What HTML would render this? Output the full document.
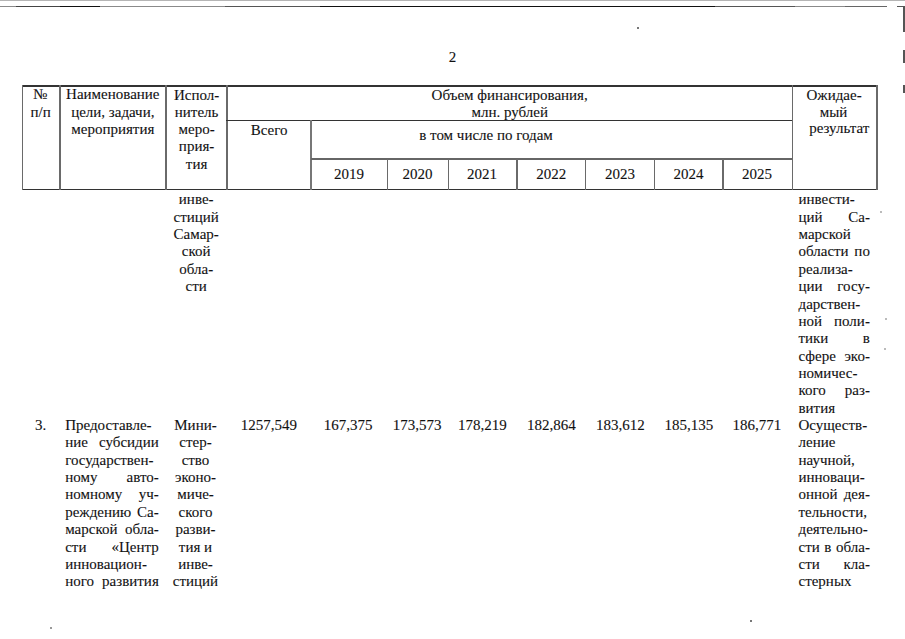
<!DOCTYPE html>
<html><head><meta charset="utf-8"><style>
html,body{margin:0;padding:0;background:#fff;width:905px;height:639px;overflow:hidden;position:relative}
.t{position:absolute;font-family:"Liberation Serif",serif;font-size:15px;line-height:17.28px;height:17.28px;color:#111;white-space:nowrap;-webkit-text-stroke:0.1px #111}
.c{text-align:center}
.j{text-align:justify;text-align-last:justify}
.l{position:absolute}
</style></head><body>
<div class="l" style="left:0px;top:0px;width:905px;height:1.2px;background:#b5b5b5"></div>
<div class="l" style="left:0px;top:5.6px;width:887px;height:1.3px;background:#8a8a8a"></div>
<div class="l" style="left:16px;top:5.5px;width:44px;height:1.6px;background:#444"></div>
<div class="l" style="left:60px;top:5.5px;width:40px;height:1.6px;background:#111"></div>
<div class="l" style="left:225px;top:5.5px;width:95px;height:1.6px;background:#555"></div>
<div class="l" style="left:320px;top:5.5px;width:395px;height:1.6px;background:#111"></div>
<div class="l" style="left:715px;top:5.5px;width:80px;height:1.6px;background:#555"></div>
<div class="l" style="left:845px;top:5.5px;width:42px;height:1.6px;background:#666"></div>
<div class="l" style="left:897px;top:5.5px;width:8px;height:1.6px;background:#555"></div>
<div class="l" style="left:903.4px;top:6px;width:1.6px;height:26px;background:#555"></div>
<div class="l" style="left:903.4px;top:50px;width:1.6px;height:13px;background:#555"></div>
<div class="l" style="left:903.4px;top:85px;width:1.6px;height:8px;background:#555"></div>
<div class="l" style="left:637px;top:27px;width:1.5px;height:1.5px;background:#777"></div>
<div class="l" style="left:50px;top:627px;width:1.5px;height:1.5px;background:#999"></div>
<div class="l" style="left:750px;top:620px;width:1.5px;height:1.5px;background:#777"></div>
<div class="l" style="left:880px;top:211px;width:1.5px;height:1.5px;background:#bbb"></div>
<div class="l" style="left:885px;top:318px;width:1.5px;height:1.5px;background:#bbb"></div>
<div class="l" style="left:884px;top:348px;width:1.5px;height:1.5px;background:#bbb"></div>
<div class="t" style="left:448.70px;top:48.60px">2</div>
<div class="l" style="left:21.5px;top:85px;width:856.0px;height:1.5px;background:#333"></div>
<div class="l" style="left:21.5px;top:188.5px;width:856.0px;height:1.6px;background:#333"></div>
<div class="l" style="left:21.5px;top:85px;width:1.6px;height:105.0px;background:#6a6a6a"></div>
<div class="l" style="left:59.2px;top:85px;width:1.6px;height:105.0px;background:#6a6a6a"></div>
<div class="l" style="left:165.2px;top:85px;width:1.6px;height:105.0px;background:#6a6a6a"></div>
<div class="l" style="left:226.0px;top:85px;width:1.6px;height:105.0px;background:#6a6a6a"></div>
<div class="l" style="left:791.5px;top:85px;width:1.6px;height:105.0px;background:#6a6a6a"></div>
<div class="l" style="left:876.0px;top:85px;width:1.6px;height:105.0px;background:#6a6a6a"></div>
<div class="l" style="left:226.3px;top:119.8px;width:565.7px;height:1.5px;background:#333"></div>
<div class="l" style="left:310.2px;top:120px;width:1.6px;height:69.5px;background:#777"></div>
<div class="l" style="left:311px;top:158.2px;width:481px;height:1.7px;background:#666"></div>
<div class="l" style="left:386.5px;top:158.5px;width:1.6px;height:31.0px;background:#6a6a6a"></div>
<div class="l" style="left:447.7px;top:158.5px;width:1.6px;height:31.0px;background:#6a6a6a"></div>
<div class="l" style="left:516.2px;top:158.5px;width:1.6px;height:31.0px;background:#6a6a6a"></div>
<div class="l" style="left:584.7px;top:158.5px;width:1.6px;height:31.0px;background:#6a6a6a"></div>
<div class="l" style="left:653.8px;top:158.5px;width:1.6px;height:31.0px;background:#6a6a6a"></div>
<div class="l" style="left:722.4px;top:158.5px;width:1.6px;height:31.0px;background:#6a6a6a"></div>
<div class="t c" style="left:-59.80px;top:86.40px;width:200px">№</div>
<div class="t c" style="left:-59.40px;top:104.00px;width:200px">п/п</div>
<div class="t c" style="left:12.80px;top:86.40px;width:200px">Наименование</div>
<div class="t c" style="left:12.80px;top:103.65px;width:200px">цели, задачи,</div>
<div class="t c" style="left:12.80px;top:120.90px;width:200px">мероприятия</div>
<div class="t c" style="left:96.60px;top:86.90px;width:200px">Испол-</div>
<div class="t c" style="left:96.60px;top:104.05px;width:200px">нитель</div>
<div class="t c" style="left:96.60px;top:121.20px;width:200px">меро-</div>
<div class="t c" style="left:96.60px;top:138.35px;width:200px">прия-</div>
<div class="t c" style="left:96.60px;top:155.50px;width:200px">тия</div>
<div class="t c" style="left:409.70px;top:86.90px;width:200px">Объем финансирования,</div>
<div class="t c" style="left:409.75px;top:103.80px;width:200px">млн. рублей</div>
<div class="t c" style="left:169.10px;top:121.70px;width:200px">Всего</div>
<div class="t" style="left:419.20px;top:126.90px">в том числе по годам</div>
<div class="t c" style="left:249.10px;top:166.40px;width:200px">2019</div>
<div class="t c" style="left:317.60px;top:166.40px;width:200px">2020</div>
<div class="t c" style="left:382.00px;top:166.40px;width:200px">2021</div>
<div class="t c" style="left:451.20px;top:166.40px;width:200px">2022</div>
<div class="t c" style="left:520.00px;top:166.40px;width:200px">2023</div>
<div class="t c" style="left:588.50px;top:166.40px;width:200px">2024</div>
<div class="t c" style="left:657.00px;top:166.40px;width:200px">2025</div>
<div class="t c" style="left:734.10px;top:86.90px;width:200px">Ожидае-</div>
<div class="t c" style="left:733.60px;top:103.80px;width:200px">мый</div>
<div class="t c" style="left:739.20px;top:120.40px;width:200px">результат</div>
<div class="t c" style="left:96.20px;top:191.40px;width:200px">инве-</div>
<div class="t c" style="left:96.20px;top:208.75px;width:200px">стиций</div>
<div class="t c" style="left:96.20px;top:226.11px;width:200px">Самар-</div>
<div class="t c" style="left:96.20px;top:243.46px;width:200px">ской</div>
<div class="t c" style="left:96.20px;top:260.82px;width:200px">обла-</div>
<div class="t c" style="left:96.20px;top:278.18px;width:200px">сти</div>
<div class="t" style="left:798.50px;top:191.40px">инвести-</div>
<div class="t j" style="left:798.50px;top:208.75px;width:71.40px">ций Са-</div>
<div class="t" style="left:798.50px;top:226.11px">марской</div>
<div class="t j" style="left:798.50px;top:243.46px;width:71.40px">области по</div>
<div class="t" style="left:798.50px;top:260.82px">реализа-</div>
<div class="t j" style="left:798.50px;top:278.18px;width:71.40px">ции госу-</div>
<div class="t" style="left:798.50px;top:295.53px">дарствен-</div>
<div class="t j" style="left:798.50px;top:312.88px;width:71.40px">ной поли-</div>
<div class="t j" style="left:798.50px;top:330.24px;width:71.40px">тики в</div>
<div class="t j" style="left:798.50px;top:347.59px;width:71.40px">сфере эко-</div>
<div class="t" style="left:798.50px;top:364.95px">номичес-</div>
<div class="t j" style="left:798.50px;top:382.31px;width:71.40px">кого раз-</div>
<div class="t" style="left:798.50px;top:399.66px">вития</div>
<div class="t" style="left:35.00px;top:417.01px">3.</div>
<div class="t" style="left:65.20px;top:417.01px">Предоставле-</div>
<div class="t j" style="left:65.20px;top:434.37px;width:93.60px">ние субсидии</div>
<div class="t" style="left:65.20px;top:451.72px">государствен-</div>
<div class="t j" style="left:65.20px;top:469.08px;width:93.60px">ному авто-</div>
<div class="t j" style="left:65.20px;top:486.44px;width:93.60px">номному уч-</div>
<div class="t j" style="left:65.20px;top:503.79px;width:93.60px">реждению Са-</div>
<div class="t j" style="left:65.20px;top:521.14px;width:93.60px">марской обла-</div>
<div class="t j" style="left:65.20px;top:538.50px;width:93.60px">сти «Центр</div>
<div class="t" style="left:65.20px;top:555.86px">инновацион-</div>
<div class="t j" style="left:65.20px;top:573.21px;width:93.60px">ного развития</div>
<div class="t c" style="left:95.50px;top:417.01px;width:200px">Мини-</div>
<div class="t c" style="left:95.50px;top:434.37px;width:200px">стер-</div>
<div class="t c" style="left:95.50px;top:451.72px;width:200px">ство</div>
<div class="t c" style="left:95.50px;top:469.08px;width:200px">эконо-</div>
<div class="t c" style="left:95.50px;top:486.44px;width:200px">миче-</div>
<div class="t c" style="left:95.50px;top:503.79px;width:200px">ского</div>
<div class="t c" style="left:95.50px;top:521.14px;width:200px">разви-</div>
<div class="t c" style="left:95.50px;top:538.50px;width:200px">тия и</div>
<div class="t c" style="left:95.50px;top:555.86px;width:200px">инве-</div>
<div class="t c" style="left:95.50px;top:573.21px;width:200px">стиций</div>
<div class="t c" style="left:168.90px;top:417.01px;width:200px">1257,549</div>
<div class="t c" style="left:248.00px;top:417.01px;width:200px">167,375</div>
<div class="t c" style="left:317.00px;top:417.01px;width:200px">173,573</div>
<div class="t c" style="left:382.30px;top:417.01px;width:200px">178,219</div>
<div class="t c" style="left:451.40px;top:417.01px;width:200px">182,864</div>
<div class="t c" style="left:520.30px;top:417.01px;width:200px">183,612</div>
<div class="t c" style="left:588.90px;top:417.01px;width:200px">185,135</div>
<div class="t c" style="left:656.75px;top:417.01px;width:200px">186,771</div>
<div class="t" style="left:798.50px;top:417.01px">Осуществ-</div>
<div class="t" style="left:798.50px;top:434.37px">ление</div>
<div class="t" style="left:798.50px;top:451.72px">научной,</div>
<div class="t" style="left:798.50px;top:469.08px">инноваци-</div>
<div class="t j" style="left:798.50px;top:486.44px;width:71.40px">онной дея-</div>
<div class="t" style="left:798.50px;top:503.79px">тельности,</div>
<div class="t" style="left:798.50px;top:521.14px">деятельно-</div>
<div class="t j" style="left:798.50px;top:538.50px;width:71.40px">сти в обла-</div>
<div class="t j" style="left:798.50px;top:555.86px;width:71.40px">сти кла-</div>
<div class="t" style="left:798.50px;top:573.21px">стерных</div>
</body></html>
